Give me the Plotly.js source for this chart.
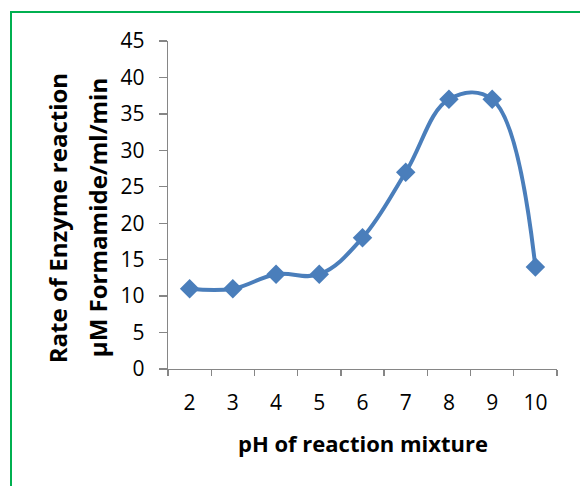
<!DOCTYPE html>
<html>
<head>
<meta charset="utf-8">
<script src="https://cdn.plot.ly/plotly-3.0.1.min.js"></script>
<style>
  html, body { margin: 0; padding: 0; background: #fff; }
  #wrap { position: relative; width: 580px; height: 486px; overflow: hidden; }
  #frame { position: absolute; left: 10px; top: 11px; width: 600px; height: 500px;
           border-left: 2px solid #00b050; border-top: 2px solid #00b050; box-sizing: border-box; pointer-events: none; }
  #chart { position: absolute; left: 0; top: 0; width: 580px; height: 486px; }
</style>
</head>
<body>
<div id="wrap">
  <div id="chart"></div>
  <div id="frame"></div>
</div>
<script>
const phCategories = ["2", "3", "4", "5", "6", "7", "8", "9", "10"];
const rateValues = [11, 11, 13, 13, 18, 27, 37, 37, 14];
const yTickValues = [0, 5, 10, 15, 20, 25, 30, 35, 40, 45];
const xTitle = "pH of reaction mixture";
const yTitleLine1 = "Rate of Enzyme reaction";
const yTitleLine2 = "µM Formamide/ml/min";

const FONT = "Open Sans, sans-serif";
const BLUE = "#4a7ebb";
const AXIS = "#868686";

const trace = {
  x: phCategories,
  y: rateValues,
  type: "scatter",
  mode: "lines+markers",
  line: { color: BLUE, width: 4, shape: "spline", smoothing: 1.1 },
  marker: { symbol: "diamond", size: 15, color: BLUE },
  hoverinfo: "none"
};

const layout = {
  width: 580, height: 486,
  margin: { l: 168, r: 23, t: 41, b: 117 },
  paper_bgcolor: "rgba(0,0,0,0)",
  plot_bgcolor: "rgba(0,0,0,0)",
  showlegend: false,
  font: { family: FONT, color: "#000" },
  xaxis: {
    type: "category",
    range: [-0.5, 8.5],
    showgrid: false, zeroline: false,
    showline: true, linecolor: AXIS, linewidth: 1.3,
    ticks: "outside", tickson: "boundaries", ticklen: 6, tickcolor: AXIS, tickwidth: 1.3,
    tickfont: { family: FONT, size: 21, color: "#000" },
    ticklabelstandoff: 14
  },
  yaxis: {
    range: [0, 45],
    tickvals: yTickValues,
    showgrid: false, zeroline: false,
    showline: true, linecolor: AXIS, linewidth: 1.3,
    ticks: "outside", ticklen: 8, tickcolor: AXIS, tickwidth: 1.3,
    tickfont: { family: FONT, size: 21, color: "#000" },
    ticklabelstandoff: 10
  },
  annotations: [
    { text: "<b>" + xTitle + "</b>", xref: "paper", yref: "paper", x: 0.5, y: -0.2256,
      xanchor: "center", yanchor: "middle", showarrow: false, font: { family: FONT, size: 22, color: "#000" } },
    { text: "<b>" + yTitleLine1 + "</b>", xref: "paper", yref: "paper", x: -0.285, y: 0.46,
      xanchor: "center", yanchor: "middle", textangle: -90, showarrow: false, font: { family: FONT, size: 24, color: "#000" } },
    { text: "<b>" + yTitleLine2 + "</b>", xref: "paper", yref: "paper", x: -0.1825, y: 0.46,
      xanchor: "center", yanchor: "middle", textangle: -90, showarrow: false, font: { family: FONT, size: 24, color: "#000" } }
  ]
};

Plotly.newPlot("chart", [trace], layout, { displayModeBar: false, staticPlot: true });
</script>
</body>
</html>
